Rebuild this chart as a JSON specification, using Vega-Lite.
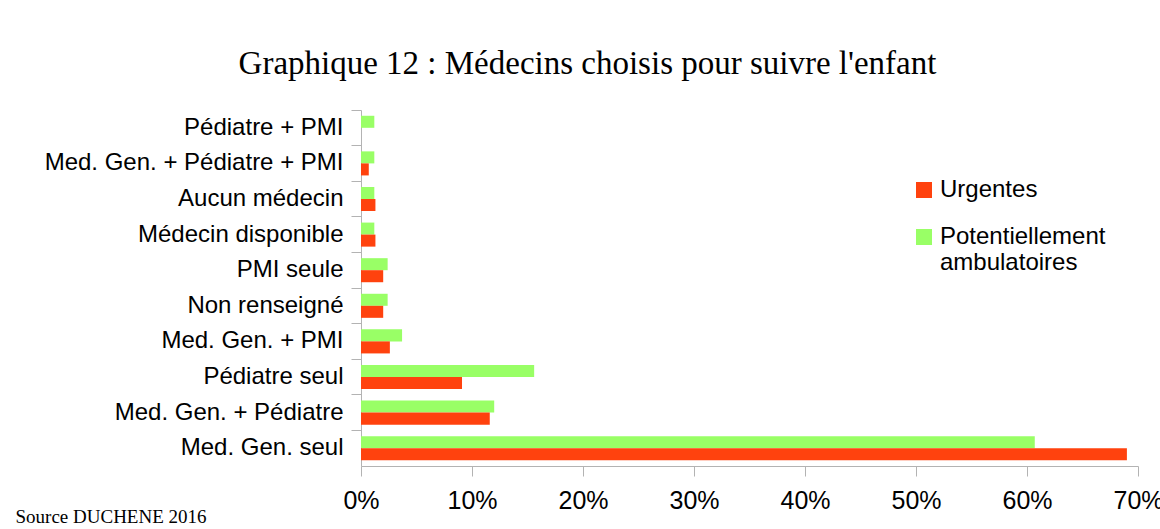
{
  "$schema": "https://vega.github.io/schema/vega-lite/v6.json",
  "width": 777,
  "height": 356,
  "autosize": {"type": "none"},
  "padding": {"left": 361, "top": 110, "right": 22, "bottom": 63},
  "background": "white",
  "title": {
    "text": "Graphique 12 : Médecins choisis pour suivre l'enfant",
    "font": "Liberation Serif",
    "fontSize": 33,
    "fontWeight": "normal",
    "color": "black",
    "anchor": "middle",
    "baseline": "alphabetic",
    "offset": 3,
    "dx": -162
  },
  "data": {
    "values": [
      {"cat": "Pédiatre + PMI", "serie": "Potentiellement ambulatoires", "pct": 1.2},
      {"cat": "Pédiatre + PMI", "serie": "Urgentes", "pct": 0},
      {"cat": "Med. Gen. + Pédiatre + PMI", "serie": "Potentiellement ambulatoires", "pct": 1.2},
      {"cat": "Med. Gen. + Pédiatre + PMI", "serie": "Urgentes", "pct": 0.7},
      {"cat": "Aucun médecin", "serie": "Potentiellement ambulatoires", "pct": 1.2},
      {"cat": "Aucun médecin", "serie": "Urgentes", "pct": 1.3},
      {"cat": "Médecin disponible", "serie": "Potentiellement ambulatoires", "pct": 1.2},
      {"cat": "Médecin disponible", "serie": "Urgentes", "pct": 1.3},
      {"cat": "PMI seule", "serie": "Potentiellement ambulatoires", "pct": 2.4},
      {"cat": "PMI seule", "serie": "Urgentes", "pct": 2.0},
      {"cat": "Non renseigné", "serie": "Potentiellement ambulatoires", "pct": 2.4},
      {"cat": "Non renseigné", "serie": "Urgentes", "pct": 2.0},
      {"cat": "Med. Gen. + PMI", "serie": "Potentiellement ambulatoires", "pct": 3.7},
      {"cat": "Med. Gen. + PMI", "serie": "Urgentes", "pct": 2.6},
      {"cat": "Pédiatre seul", "serie": "Potentiellement ambulatoires", "pct": 15.6},
      {"cat": "Pédiatre seul", "serie": "Urgentes", "pct": 9.1},
      {"cat": "Med. Gen. + Pédiatre", "serie": "Potentiellement ambulatoires", "pct": 12.0},
      {"cat": "Med. Gen. + Pédiatre", "serie": "Urgentes", "pct": 11.6},
      {"cat": "Med. Gen. seul", "serie": "Potentiellement ambulatoires", "pct": 60.7},
      {"cat": "Med. Gen. seul", "serie": "Urgentes", "pct": 69.0}
    ]
  },
  "mark": {"type": "bar"},
  "encoding": {
    "y": {
      "field": "cat",
      "type": "nominal",
      "sort": ["Pédiatre + PMI", "Med. Gen. + Pédiatre + PMI", "Aucun médecin", "Médecin disponible", "PMI seule", "Non renseigné", "Med. Gen. + PMI", "Pédiatre seul", "Med. Gen. + Pédiatre", "Med. Gen. seul"],
      "scale": {"paddingInner": 0, "paddingOuter": 0},
      "axis": {
        "title": null,
        "bandPosition": 0,
        "labelFont": "Liberation Sans",
        "labelFontSize": 24,
        "labelColor": "black",
        "labelPadding": 8,
        "labelLimit": 400,
        "tickSize": 10,
        "tickColor": "#b3b3b3",
        "domainColor": "#b3b3b3",
        "tickWidth": 1,
        "domainWidth": 1
      }
    },
    "yOffset": {
      "field": "serie",
      "type": "nominal",
      "sort": ["Potentiellement ambulatoires", "Urgentes"],
      "scale": {"paddingInner": 0, "paddingOuter": 0.48}
    },
    "x": {
      "field": "pct",
      "type": "quantitative",
      "scale": {"domain": [0, 70], "nice": false},
      "axis": {
        "title": "Source DUCHENE 2016",
        "titleFont": "Liberation Serif",
        "titleFontSize": 19,
        "titleFontWeight": "normal",
        "titleColor": "black",
        "titleAlign": "left",
        "titleBaseline": "alphabetic",
        "titleAnchor": "start",
        "titleX": -346,
        "titleY": 56,
        "values": [0, 10, 20, 30, 40, 50, 60, 70],
        "labelExpr": "datum.value + '%'",
        "labelFont": "Liberation Sans",
        "labelFontSize": 25,
        "labelColor": "black",
        "labelPadding": 12,
        "labelFlush": false,
        "tickSize": 10,
        "tickColor": "#b3b3b3",
        "domainColor": "#b3b3b3",
        "grid": false
      }
    },
    "color": {
      "field": "serie",
      "type": "nominal",
      "scale": {"domain": ["Urgentes", "Potentiellement ambulatoires"], "range": ["#ff420e", "#99ff66"]},
      "legend": {
        "title": null,
        "orient": "none",
        "legendX": 551,
        "legendY": 68,
        "symbolType": "square",
        "symbolSize": 256,
        "symbolStrokeWidth": 0,
        "symbolOpacity": 1,
        "labelFont": "Liberation Sans",
        "labelFontSize": 24,
        "labelColor": "black",
        "labelOffset": 4,
        "labelLimit": 300,
        "rowPadding": 23,
        "labelExpr": "datum.label == 'Potentiellement ambulatoires' ? ['Potentiellement', 'ambulatoires'] : datum.label"
      }
    }
  },
  "config": {"view": {"stroke": null}}
}
